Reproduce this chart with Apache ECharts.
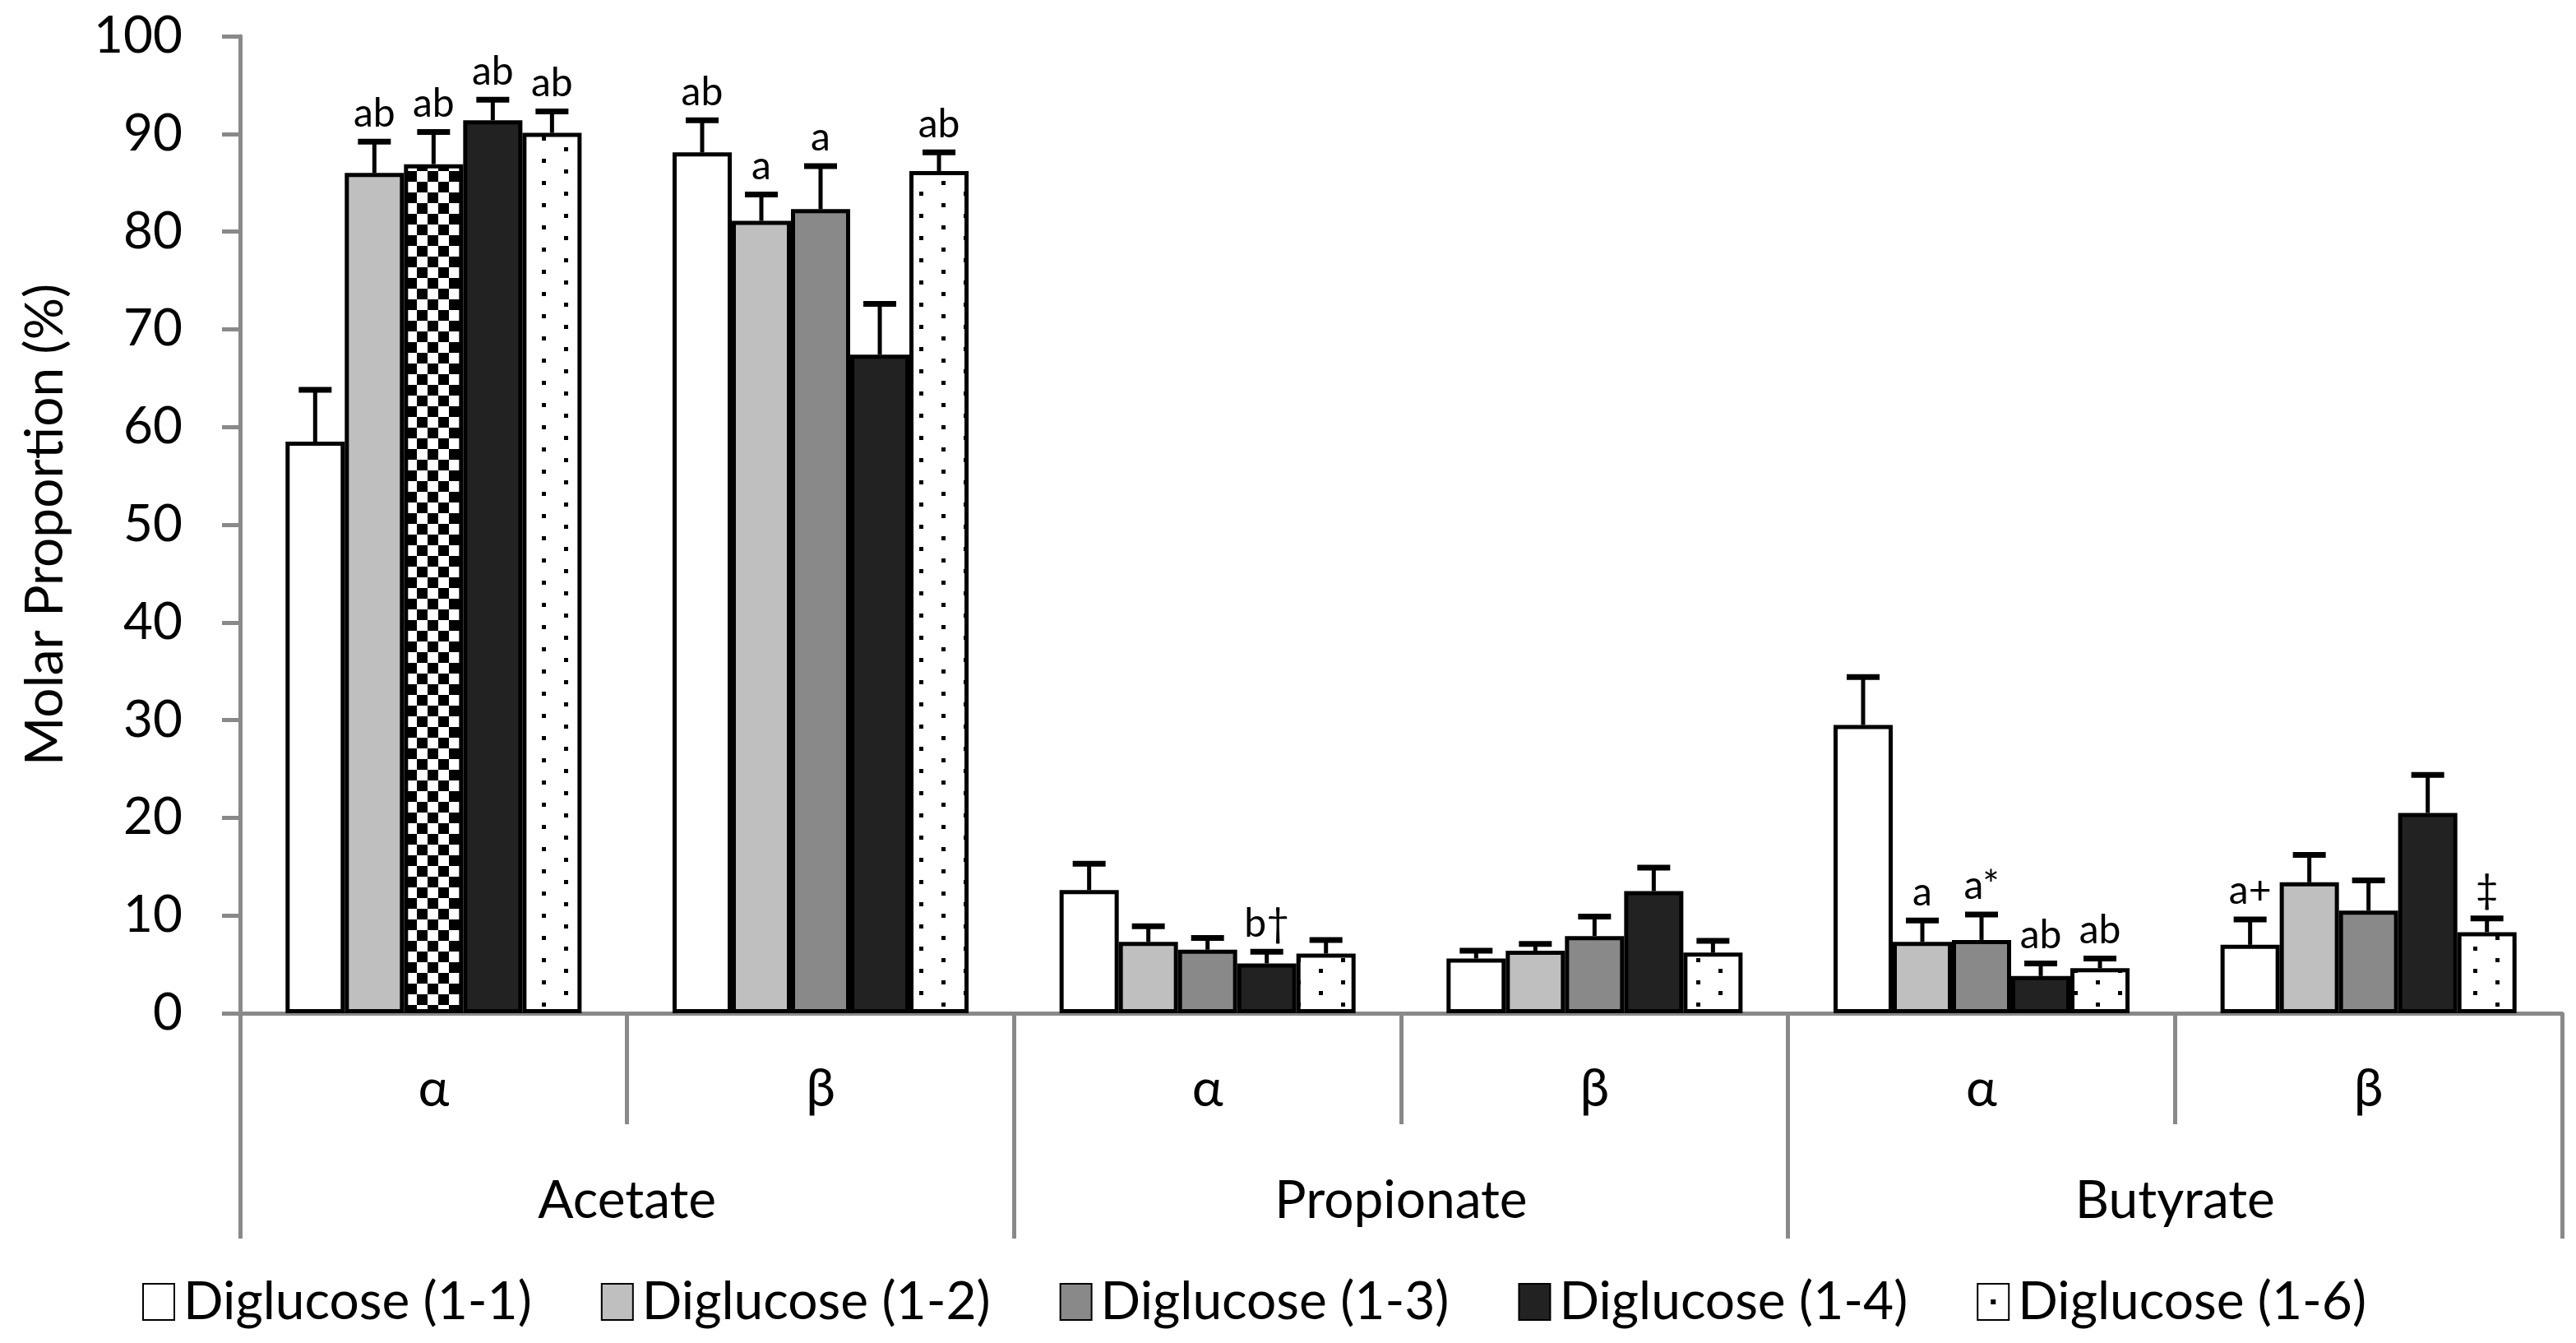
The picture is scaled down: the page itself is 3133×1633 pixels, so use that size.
<!DOCTYPE html>
<html>
<head>
<meta charset="utf-8">
<script src="https://cdn.jsdelivr.net/npm/echarts@6/dist/echarts.min.js"></script>
<style>
  html, body { margin: 0; padding: 0; background: #fff; }
  #chart { width: 3133px; height: 1633px; }
</style>
</head>
<body>
<div id="chart"></div>
<script>
// ---- Data ----
const subCategories = ['α', 'β', 'α', 'β', 'α', 'β'];
const groupCategories = ['Acetate', 'Propionate', 'Butyrate'];
const seriesNames = ['Diglucose (1-1)', 'Diglucose (1-2)', 'Diglucose (1-3)', 'Diglucose (1-4)', 'Diglucose (1-6)'];
const yTicks = [0, 10, 20, 30, 40, 50, 60, 70, 80, 90, 100];

const mean11 = [58.5, 88.1, 12.6, 5.6, 29.5, 7.0];
const mean12 = [86.0, 81.1, 7.3, 6.4, 7.3, 13.4];
const mean13 = [86.9, 82.3, 6.5, 7.9, 7.5, 10.5];
const mean14 = [91.4, 67.4, 5.1, 12.5, 3.8, 20.5];
const mean16 = [90.1, 86.2, 6.1, 6.2, 4.6, 8.3];

const err11 = [5.3, 3.3, 2.7, 0.8, 4.9, 2.6];
const err12 = [3.2, 2.7, 1.6, 0.7, 2.2, 2.8];
const err13 = [3.3, 4.4, 1.2, 2.0, 2.6, 3.1];
const err14 = [2.1, 5.2, 1.2, 2.4, 1.3, 3.9];
const err16 = [2.2, 1.9, 1.4, 1.2, 1.0, 1.4];

const lab11 = ['', 'ab', '', '', '', 'a+'];
const lab12 = ['ab', 'a', '', '', 'a', ''];
const lab13 = ['ab', 'a', '', '', 'a*', ''];
const lab14 = ['ab', '', 'b†', '', 'ab', ''];
const lab16 = ['ab', 'ab', '', '', 'ab', '‡'];

const means = [mean11, mean12, mean13, mean14, mean16];
const errs = [err11, err12, err13, err14, err16];
const labels = [lab11, lab12, lab13, lab14, lab16];

// ---- Patterns ----
function checkerCanvas() {
  const c = document.createElement('canvas');
  c.width = 26; c.height = 26;
  const g = c.getContext('2d');
  g.fillStyle = '#fff'; g.fillRect(0, 0, 26, 26);
  g.fillStyle = '#000';
  g.fillRect(0, 0, 13, 13);
  g.fillRect(13, 13, 13, 13);
  return c;
}
function dotsCanvas() {
  const c = document.createElement('canvas');
  c.width = 54; c.height = 27;
  const g = c.getContext('2d');
  g.fillStyle = '#fff'; g.fillRect(0, 0, 54, 27);
  g.fillStyle = '#000';
  g.fillRect(11, 4, 5, 5);
  g.fillRect(38, 17, 5, 5);
  return c;
}
function legendDotCanvas() {
  const c = document.createElement('canvas');
  c.width = 38; c.height = 44;
  const g = c.getContext('2d');
  g.fillStyle = '#fff'; g.fillRect(0, 0, 38, 44);
  g.fillStyle = '#000';
  g.fillRect(16, 19, 6, 6);
  return c;
}
const checkerPattern = { image: checkerCanvas(), repeat: 'repeat' };
const dotsPattern = { image: dotsCanvas(), repeat: 'repeat' };
const legendDotPattern = { image: legendDotCanvas(), repeat: 'repeat' };

const fills = ['#ffffff', '#bfbfbf', '#898989', '#222222', dotsPattern];
const BAR_FRAC = 0.153;
const FONT = 'Lato';
const GRAY = '#898989';

const chart = echarts.init(document.getElementById('chart'), null, { renderer: 'canvas' });

const barSeries = seriesNames.map((name, si) => ({
  name: name,
  type: 'bar',
  barWidth: (BAR_FRAC * 100) + '%',
  barGap: '0%',
  xAxisIndex: 0,
  itemStyle: { color: fills[si], borderColor: '#000', borderWidth: 5 },
  data: means[si].map((v, ci) => {
    if (si === 2 && ci === 0) {
      return { value: v, itemStyle: { color: checkerPattern } };
    }
    return v;
  }),
  z: 2
}));

const errData = [];
means.forEach((arr, si) => arr.forEach((v, ci) => errData.push([ci, si, v, errs[si][ci]])));

const errSeries = {
  type: 'custom',
  xAxisIndex: 0,
  z: 5,
  encode: { x: 0, y: 2 },
  data: errData,
  renderItem: function (params, api) {
    const ci = api.value(0), si = api.value(1), v = api.value(2), e = api.value(3);
    const base = api.coord([ci, 0]);
    const band = api.size([1, 0])[0];
    const bw = band * BAR_FRAC;
    const x = base[0] + (si - (seriesNames.length - 1) / 2) * bw;
    const y0 = api.coord([ci, v])[1];
    const y1 = api.coord([ci, v + e])[1];
    const lab = labels[si][ci];
    const children = [
      { type: 'line', shape: { x1: x, y1: y0, x2: x, y2: y1 }, style: { stroke: '#000', lineWidth: 5 } },
      { type: 'rect', shape: { x: x - 20, y: y1 - 3.5, width: 40, height: 7 }, style: { fill: '#000' } }
    ];
    if (lab) {
      children.push({
        type: 'text',
        style: { text: lab, x: x, y: y1 - 10, align: 'center', verticalAlign: 'bottom',
                 fontSize: 48, fontFamily: FONT, fill: '#000' }
      });
    }
    return { type: 'group', children: children };
  }
};

const option = {
  animation: false,
  backgroundColor: '#fff',
  textStyle: { fontFamily: FONT, color: '#000' },
  grid: { left: 292, right: 17, top: 44, bottom: 401, containLabel: false },
  legend: {
    left: 168,
    top: 1546,
    itemWidth: 38,
    itemHeight: 44,
    itemGap: 84,
    icon: 'rect',
    textStyle: { fontSize: 64, fontFamily: FONT, color: '#000', padding: [0, 0, 0, 6] },
    data: seriesNames.map((n, i) => i === 4 ? { name: n, itemStyle: { color: legendDotPattern } } : { name: n })
  },
  xAxis: [
    {
      type: 'category',
      data: subCategories,
      position: 'bottom',
      axisLine: { show: true, lineStyle: { color: GRAY, width: 5 } },
      axisTick: { show: true, interval: 0, length: 135, lineStyle: { color: GRAY, width: 5 } },
      axisLabel: { interval: 0, margin: 60, fontSize: 64, fontFamily: FONT, color: '#000' },
      splitLine: { show: false }
    },
    {
      type: 'category',
      data: groupCategories,
      position: 'bottom',
      axisLine: { show: false },
      axisTick: { show: true, interval: 0, length: 274, lineStyle: { color: GRAY, width: 5 } },
      axisLabel: { interval: 0, margin: 196, fontSize: 64, fontFamily: FONT, color: '#000' },
      splitLine: { show: false }
    }
  ],
  yAxis: {
    type: 'value',
    min: yTicks[0],
    max: yTicks[yTicks.length - 1],
    interval: yTicks[1] - yTicks[0],
    name: 'Molar Proportion (%)',
    nameLocation: 'middle',
    nameRotate: 90,
    nameGap: 205,
    nameTextStyle: { fontSize: 64, fontFamily: FONT, color: '#000' },
    axisLine: { show: true, lineStyle: { color: GRAY, width: 5 } },
    axisTick: { show: true, inside: false, length: 22, lineStyle: { color: GRAY, width: 5 } },
    axisLabel: { margin: 70, fontSize: 62, fontFamily: FONT, color: '#000' },
    splitLine: { show: false }
  },
  series: barSeries.concat([errSeries])
};

chart.setOption(option);
</script>
</body>
</html>
